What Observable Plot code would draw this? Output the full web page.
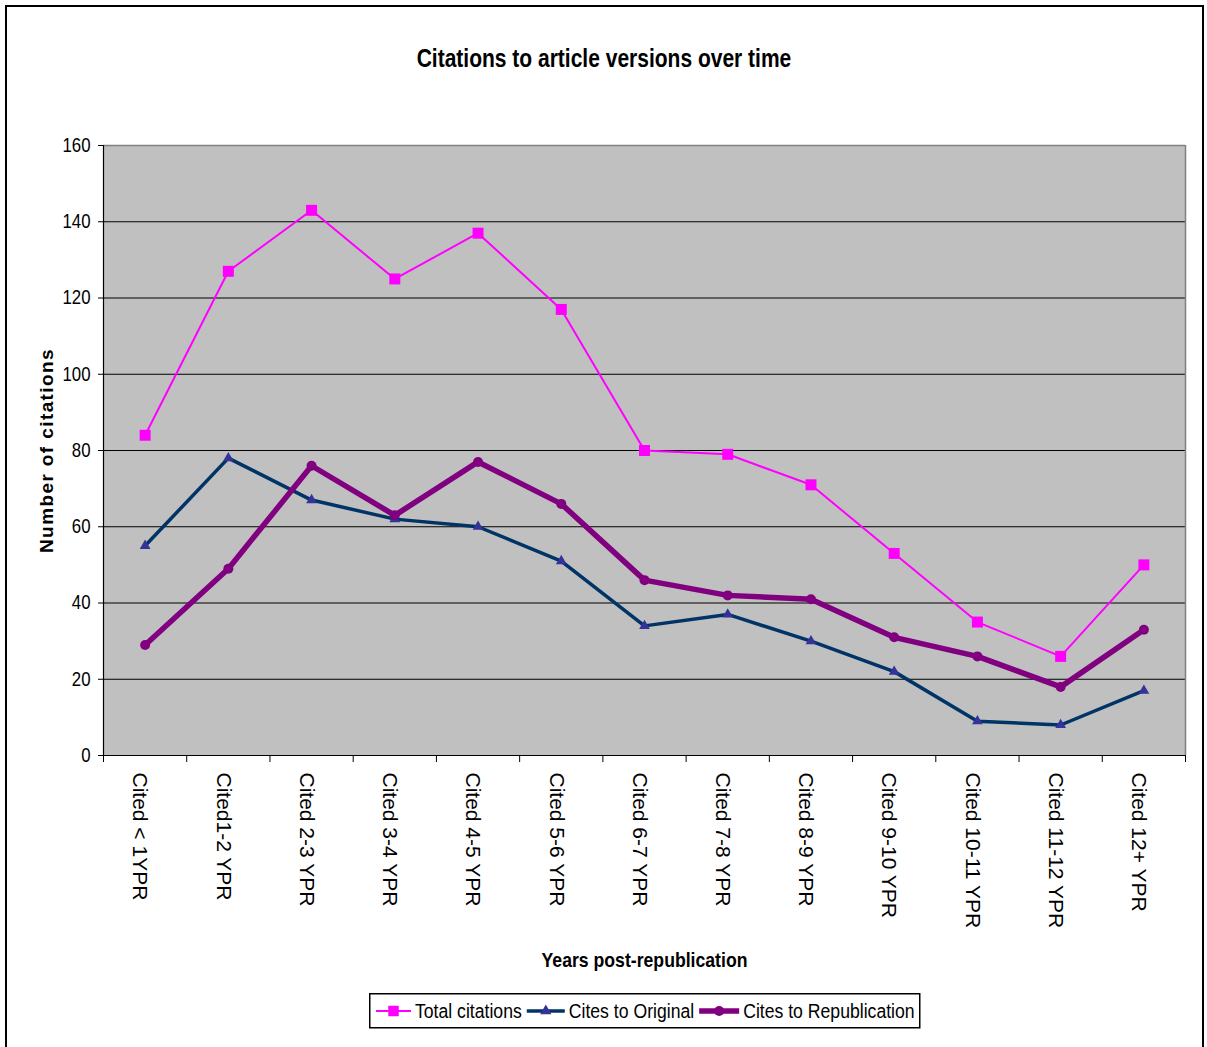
<!DOCTYPE html>
<html>
<head>
<meta charset="utf-8">
<script src="https://cdn.jsdelivr.net/npm/d3@7"></script>
<script src="https://cdn.jsdelivr.net/npm/@observablehq/plot@0.6"></script>
<style>
  body { margin: 0; background: #fff; }
  #page {
    position: relative; width: 1207px; height: 1047px; overflow: hidden;
    font-family: "Liberation Sans", Arial, sans-serif; color: #000;
  }
  #frame { position: absolute; left: 5px; top: 5px; width: 1195px; height: 1100px; border: 2.5px solid #000; }
  #title {
    position: absolute; left: 0; top: 43px; width: 1207px; line-height: 30px;
    text-align: center; font-weight: bold; font-size: 25px;
  }
  #title span { display: inline-block; transform: scaleX(0.84); transform-origin: 50% 50%; white-space: nowrap; }
  #chart { position: absolute; left: 0; top: 100px; }
  #legend { position: absolute; left: 369px; top: 993px; }
</style>
</head>
<body>
<div id="page">
  <div id="frame"></div>
  <div id="title"><span>Citations to article versions over time</span></div>
  <div id="chart"></div>
  <div id="legend"></div>
</div>
<script>
// Citation counts per period after republication
const categories = [
  "Cited < 1YPR", "Cited1-2 YPR", "Cited 2-3 YPR", "Cited 3-4 YPR", "Cited 4-5 YPR",
  "Cited 5-6 YPR", "Cited 6-7 YPR", "Cited 7-8 YPR", "Cited 8-9 YPR", "Cited 9-10 YPR",
  "Cited 10-11 YPR", "Cited 11-12 YPR", "Cited 12+ YPR"
];
const totalCitations       = [84, 127, 143, 125, 137, 117, 80, 79, 71, 53, 35, 26, 50];
const citesToOriginal      = [55, 78, 67, 62, 60, 51, 34, 37, 30, 22, 9, 8, 17];
const citesToRepublication = [29, 49, 76, 63, 77, 66, 46, 42, 41, 31, 26, 18, 33];
const yTicks = [0, 20, 40, 60, 80, 100, 120, 140, 160];

const seriesNames = ["Total citations", "Cites to Original", "Cites to Republication"];
const lineColors = ["#ff00ff", "#003366", "#800080"];
const markerColors = ["#ff00ff", "#333399", "#800080"];

const rows = categories.map((c, i) => ({
  i, c,
  total: totalCitations[i],
  original: citesToOriginal[i],
  rep: citesToRepublication[i]
}));

const n = categories.length;
// category boundaries, where the x ticks sit
const bounds = d3.range(n + 1).map(k => k - 0.5);
const yMax = yTicks[yTicks.length - 1];
const NARROW = 0.84; // horizontal squeeze for the condensed lettering

const chart = Plot.plot({
  width: 1207,
  height: 880,
  marginTop: 45,
  marginLeft: 103,
  marginRight: 22,
  marginBottom: 225,
  style: { fontFamily: "'Liberation Sans', Arial, sans-serif", fontSize: "20px", color: "#000", background: "transparent" },
  x: { type: "linear", domain: [-0.5, n - 0.5] },
  y: { domain: [0, yMax] },
  marks: [
    Plot.frame({ fill: "#c0c0c0", stroke: null }),
    Plot.gridY(yTicks.slice(1, -1), { stroke: "#000", strokeOpacity: 1, strokeWidth: 1 }),
    Plot.ruleY([yMax], { stroke: "#808080", strokeWidth: 1.5 }),
    Plot.ruleX([n - 0.5], { stroke: "#808080", strokeWidth: 1.5 }),
    Plot.ruleY([0], { stroke: "#000", strokeWidth: 1.2 }),
    Plot.ruleX([-0.5], { stroke: "#000", strokeWidth: 1.2 }),
    Plot.axisY({ ticks: yTicks, tickSize: 5, tickPadding: 8, label: null, fontSize: 20 }),
    Plot.axisX({ ticks: bounds, tickSize: 7, tickFormat: () => "", label: null }),

    // Total citations
    Plot.line(rows, { x: "i", y: "total", stroke: lineColors[0], strokeWidth: 2, strokeLinejoin: "miter" }),
    Plot.dot(rows, { x: "i", y: "total", symbol: "square", r: 6.2, fill: markerColors[0], stroke: null }),
    // Cites to original
    Plot.line(rows, { x: "i", y: "original", stroke: lineColors[1], strokeWidth: 3.5, strokeLinejoin: "miter" }),
    Plot.dot(rows, { x: "i", y: "original", symbol: "triangle", r: 4, fill: markerColors[1], stroke: null }),
    // Cites to republication
    Plot.line(rows, { x: "i", y: "rep", stroke: lineColors[2], strokeWidth: 5.5 }),
    Plot.dot(rows, { x: "i", y: "rep", r: 5, fill: markerColors[2], stroke: null }),

    // category labels, rotated to read downward
    Plot.text(rows, {
      x: "i", text: "c", frameAnchor: "bottom", rotate: 90,
      textAnchor: "start", lineAnchor: "middle",
      dy: 17, dx: -5, fontSize: 21
    }),
    // axis titles
    Plot.text(["Years post-republication"], {
      frameAnchor: "bottom", textAnchor: "middle", lineAnchor: "middle",
      dy: 205, fontWeight: "bold", fontSize: 21
    }),
    Plot.text(["Number of citations"], {
      frameAnchor: "left", textAnchor: "middle", lineAnchor: "middle",
      dx: -57, rotate: -90, fontWeight: "bold", fontSize: 19
    })
  ]
});
document.getElementById("chart").appendChild(chart);

// squeeze horizontal lettering to a condensed width
function condense(sel, factor) {
  sel.each(function () {
    const w = this.getComputedTextLength();
    d3.select(this).attr("textLength", w * factor).attr("lengthAdjust", "spacingAndGlyphs");
  });
}
const texts = d3.select(chart).selectAll("text");
condense(texts.filter(function () { return /^\d+$/.test(this.textContent) || this.textContent === "Years post-republication"; }), NARROW);
texts.filter(function () { return this.textContent === "Number of citations"; })
  .attr("letter-spacing", "1.4px");

// legend: line swatch with marker, then series name, inside a bordered box
const symbols = [d3.symbolSquare, d3.symbolTriangle, d3.symbolCircle];
const symbolSizes = [110, 55, 80];
const lineWidths = [2, 3.5, 5.5];
const swatchWidths = [35, 38, 40];
const legendW = 550, legendH = 34;
const lsvg = d3.select("#legend").append("svg").attr("width", legendW + 2).attr("height", legendH + 2);
lsvg.append("rect").attr("x", 0.75).attr("y", 0.75).attr("width", legendW).attr("height", legendH)
  .attr("fill", "#fff").attr("stroke", "#000").attr("stroke-width", 1.5);
let cx = 7;
seriesNames.forEach((name, k) => {
  const w = swatchWidths[k];
  const cy = legendH / 2 + 1;
  lsvg.append("line").attr("x1", cx).attr("x2", cx + w).attr("y1", cy).attr("y2", cy)
    .attr("stroke", lineColors[k]).attr("stroke-width", lineWidths[k]);
  lsvg.append("path").attr("transform", `translate(${cx + w / 2},${cy})`)
    .attr("d", d3.symbol(symbols[k], symbolSizes[k])())
    .attr("fill", markerColors[k]);
  cx += w + 4;
  const t = lsvg.append("text").attr("transform", `translate(${cx},${cy}) scale(${NARROW},1)`)
    .attr("dy", "0.35em")
    .attr("font-family", "'Liberation Sans', Arial, sans-serif").attr("font-size", 21)
    .attr("fill", "#000").text(name);
  const tw = t.node().getComputedTextLength() * NARROW;
  cx += tw + 5;
});
</script>
</body>
</html>
